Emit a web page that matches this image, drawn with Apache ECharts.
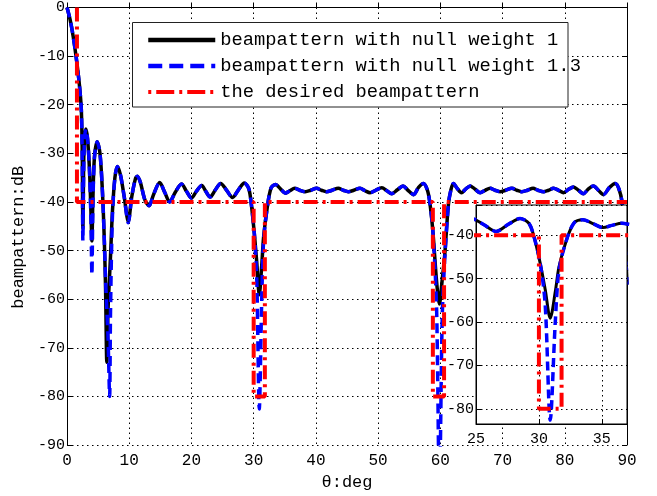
<!DOCTYPE html>
<html>
<head>
<meta charset="utf-8">
<script src="https://cdn.jsdelivr.net/npm/echarts@6/dist/echarts.min.js"></script>
<style>
  html, body { margin: 0; padding: 0; background: #fff; }
  #chart { width: 657px; height: 496px; }
</style>
</head>
<body>
<div id="chart"></div>
<script>
// Array beampatterns (dB) against look angle theta (deg)
const theta = [0, 0.5, 1.0, 1.5, 2.0, 2.3, 2.45, 2.55, 2.7, 2.85, 3.05, 3.3, 3.6, 3.85, 4.0, 4.15, 4.4, 4.85, 5.3, 5.7,
  6.0, 6.2, 6.4, 6.6, 6.85, 7.0, 7.3, 7.7, 8.1, 8.6, 9.2, 9.85, 10.4, 11.0, 11.3, 11.8, 12.5, 13.2, 13.9, 14.9,
  15.7, 16.5, 17.4, 18.4, 19.2, 20.0, 20.8, 21.65, 22.3, 23.0, 23.8, 24.7, 25.6, 26.6, 27.6, 28.5, 29.2, 29.6, 30.1, 30.5,
  30.9, 31.3, 31.6, 32.2, 32.8, 33.5, 34.3, 35.1, 35.8, 36.6, 37.4, 38.3, 39.2, 40.1, 40.9, 41.7, 42.6, 43.6, 44.4, 45.2,
  46.1, 47.1, 47.9, 48.7, 49.6, 50.6, 51.4, 52.2, 53.1, 54.0, 54.8, 55.7, 56.5, 57.3, 57.9, 58.3, 58.8, 59.4, 59.85, 60.3,
  60.7, 61.3, 61.7, 62.1, 62.7, 63.4, 64.1, 64.8, 65.6, 66.4, 67.2, 68.0, 68.8, 69.6, 70.5, 71.5, 72.3, 73.1, 74.0, 74.9,
  75.7, 76.6, 77.4, 78.2, 79.0, 79.8, 80.6, 81.4, 82.2, 83.0, 83.8, 84.6, 85.4, 86.2, 87.2, 88.1, 88.7, 89.2, 89.6, 90];

const nullWeight1 = [0, -2.5, -6, -10.5, -16, -21, -30, -45.5, -31, -26.5, -25, -27, -33, -42, -48, -40, -31, -27.6, -30, -38,
  -48, -58, -73, -62, -55, -51, -42, -35, -32.7, -34.5, -39, -44, -39, -35.2, -34.7, -36, -39.5, -40.8, -38.5, -36,
  -38, -40, -38, -36.3, -37.8, -39.2, -37.8, -36.6, -37.8, -39, -37.6, -36.2, -37.5, -39.1, -37.4, -36.1, -37.2, -40.2, -46.4, -52.5,
  -59.1, -53, -47.2, -41, -37.1, -36.4, -37.3, -38.2, -37.7, -37.2, -37.6, -37.9, -37.6, -37.2, -37.6, -37.9, -37.6, -37.2, -37.6, -37.9,
  -37.6, -37.2, -37.7, -38.1, -37.6, -37.1, -37.7, -38.3, -37.5, -36.7, -37.6, -38.5, -37, -36.2, -37.5, -40, -46, -56.4, -61, -56,
  -51, -40.5, -37.5, -36.2, -37.2, -38.1, -37.3, -36.7, -37.4, -38.1, -37.6, -37.2, -37.6, -37.9, -37.6, -37.2, -37.6, -37.9, -37.6, -37.2,
  -37.6, -37.9, -37.6, -37.2, -37.6, -38.1, -37.4, -36.9, -37.6, -38.3, -37.3, -36.7, -37.6, -38.5, -37, -36.2, -37.3, -40, -46, -57];

const nullWeight13 = [0, -2.5, -6, -10.5, -16, -21, -31, -48, -32, -26.5, -25, -27, -33, -44, -55, -42, -31, -27.6, -30, -38,
  -48, -56, -62, -68, -80, -62, -43, -35, -32.7, -34.5, -39, -44.3, -39, -35.2, -34.7, -36, -39.5, -40.8, -38.5, -36,
  -38, -40, -38, -36.3, -37.8, -39.2, -37.8, -36.6, -37.8, -39, -37.6, -36.2, -37.5, -39.1, -37.4, -36.1, -37.2, -40.2, -46.4, -56,
  -82.6, -60, -48, -41, -37.1, -36.4, -37.3, -38.2, -37.7, -37.2, -37.6, -37.9, -37.6, -37.2, -37.6, -37.9, -37.6, -37.2, -37.6, -37.9,
  -37.6, -37.2, -37.7, -38.1, -37.6, -37.1, -37.7, -38.3, -37.5, -36.7, -37.6, -38.5, -37, -36.2, -37.5, -40, -46, -62, -100, -64,
  -52, -40.5, -37.5, -36.2, -37.2, -38.1, -37.3, -36.7, -37.4, -38.1, -37.6, -37.2, -37.6, -37.9, -37.6, -37.2, -37.6, -37.9, -37.6, -37.2,
  -37.6, -37.9, -37.6, -37.2, -37.6, -38.1, -37.4, -36.9, -37.6, -38.3, -37.3, -36.7, -37.6, -38.5, -37, -36.2, -37.3, -40, -46, -57];

// Desired mask: main lobe, -40 dB sidelobe floor, -80 dB notches
const desiredTheta = [1.6, 1.6, 30, 30, 31.8, 31.8, 58.8, 58.8, 60.6, 60.6, 90];
const desiredDb = [0, -40, -40, -80, -80, -40, -40, -80, -80, -40, -40];

const names = ['beampattern with null weight 1', 'beampattern with null weight 1.3', 'the desired beampattern'];
const mainTicks = { x: [0, 90, 10], y: [-90, 0, 10] };
const insetRange = { x: [25, 37, 5], y: [-83.5, -33] };

const pairs = (xs, ys) => xs.map((x, i) => [x, ys[i]]);
const FONT = 'Liberation Mono';

const redDash = [14, 5, 3, 5];

function curveSeries(xi, yi, z, inset) {
  return [
    { name: names[0], type: 'line', xAxisIndex: xi, yAxisIndex: yi, z: z, data: pairs(theta, nullWeight1),
      symbol: 'none', smooth: 0.3, clip: true,
      lineStyle: { color: '#000', width: inset ? 3 : 3.5, type: 'solid' } },
    { name: names[1], type: 'line', xAxisIndex: xi, yAxisIndex: yi, z: z + 0.1, data: pairs(theta, nullWeight13),
      symbol: 'none', smooth: 0.3, clip: true,
      lineStyle: { color: '#0000ff', width: 3.5, type: inset ? [9, 5] : [10, 6] } },
    { name: names[2], type: 'line', xAxisIndex: xi, yAxisIndex: yi, z: z + 0.2, data: pairs(desiredTheta, desiredDb),
      symbol: 'none', clip: true,
      lineStyle: { color: '#ff0000', width: 4, type: redDash } }
  ];
}

const gridLine = { show: true, lineStyle: { color: '#000', width: 1, type: [1.5, 3.5] } };
const axisLine = { show: true, lineStyle: { color: '#000', width: 1 } };
const tickIn = { show: true, inside: true, length: 5, lineStyle: { color: '#000' } };
const noMarker = { opacity: 0, borderWidth: 0 };

const chart = echarts.init(document.getElementById('chart'), null, { renderer: 'canvas' });
chart.setOption({
  animation: false,
  backgroundColor: '#fff',
  grid: [
    { left: 67, right: 30, top: 2.5, bottom: 51 },
    { left: 476, width: 151, top: 205, height: 219, show: true, z: 6,
      backgroundColor: '#fff', borderColor: '#000', borderWidth: 1 }
  ],
  xAxis: [
    { type: 'value', gridIndex: 0, min: mainTicks.x[0], max: mainTicks.x[1], interval: mainTicks.x[2],
      name: 'θ:deg', nameLocation: 'middle', nameGap: 27,
      nameTextStyle: { fontFamily: FONT, fontSize: 17, color: '#000' },
      axisLine: axisLine, axisTick: tickIn, splitLine: gridLine,
      axisLabel: { fontFamily: FONT, fontSize: 16, color: '#000', margin: 8 } },
    { type: 'value', gridIndex: 1, min: insetRange.x[0], max: insetRange.x[1], interval: insetRange.x[2], z: 7,
      axisLine: axisLine, axisTick: tickIn, splitLine: gridLine,
      axisLabel: { fontFamily: FONT, fontSize: 15, color: '#000', margin: 8,
        formatter: v => (v % 5 === 0 ? String(v) : '') } }
  ],
  yAxis: [
    { type: 'value', gridIndex: 0, min: mainTicks.y[0], max: mainTicks.y[1], interval: mainTicks.y[2],
      name: 'beampattern:dB', nameLocation: 'middle', nameGap: 38,
      nameTextStyle: { fontFamily: FONT, fontSize: 17, color: '#000', padding: [0, 22, 0, 0] },
      axisLine: axisLine, axisTick: tickIn, splitLine: gridLine,
      axisLabel: { fontFamily: FONT, fontSize: 15, color: '#000', margin: 2 } },
    { type: 'value', gridIndex: 0, position: 'right', min: mainTicks.y[0], max: mainTicks.y[1], interval: mainTicks.y[2],
      axisLine: axisLine, axisTick: tickIn, splitLine: { show: false }, axisLabel: { show: false } },
    { type: 'value', gridIndex: 1, min: insetRange.y[0], max: insetRange.y[1], splitNumber: 5, z: 7,
      axisLine: axisLine, axisTick: tickIn, splitLine: gridLine,
      axisLabel: { fontFamily: FONT, fontSize: 15, color: '#000', margin: 2,
        formatter: v => (v % 10 === 0 ? String(v) : '') } }
  ],
  legend: {
    orient: 'vertical', left: 146, top: 30, padding: 0, z: 10,
    itemWidth: 67, itemHeight: 14, itemGap: 6,
    textStyle: { fontFamily: FONT, fontSize: 18.8, color: '#000', lineHeight: 20 },
    data: [
      { name: names[0], itemStyle: noMarker, lineStyle: { color: '#000', width: 4.5, type: 'solid' } },
      { name: names[1], itemStyle: noMarker, lineStyle: { color: '#0000ff', width: 4.5, type: [14, 7] } },
      { name: names[2], itemStyle: noMarker, lineStyle: { color: '#ff0000', width: 4, type: [3, 5, 18, 5] } }
    ]
  },
  graphic: [
    { type: 'rect', z: 9, shape: { x: 132.5, y: 22.5, width: 435.5, height: 84.5 },
      style: { fill: '#fff', stroke: '#222', lineWidth: 1 } }
  ],
  series: [].concat(curveSeries(0, 0, 2, false), curveSeries(1, 2, 8, true))
});
</script>
</body>
</html>
